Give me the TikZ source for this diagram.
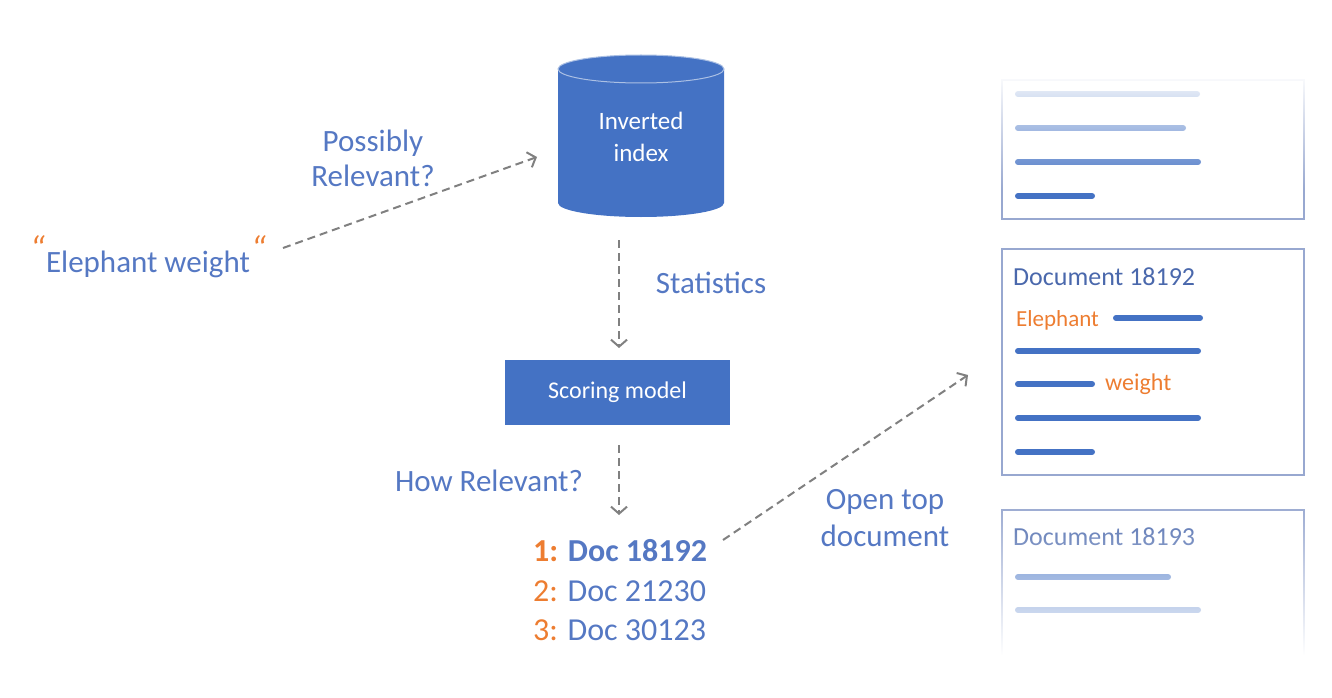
\documentclass[tikz,border=0pt]{standalone}
\usepackage{fontspec}
\setmainfont{Carlito}
\usetikzlibrary{arrows.meta,fadings}
\definecolor{mblue}{HTML}{4472C4}
\definecolor{tblue}{HTML}{5578C3}
\definecolor{dtblue}{HTML}{4A68AC}
\definecolor{morange}{HTML}{ED7D31}
\definecolor{agray}{HTML}{808080}
\definecolor{bordc}{HTML}{98A8D0}
\tikzfading[name=fadetop, top color=transparent!0, bottom color=transparent!100]
\tikzfading[name=fadebot, top color=transparent!100, bottom color=transparent!0]
\newcommand{\oquote}{\textcolor{morange}{\raisebox{11pt}{\fontsize{36}{36}\selectfont\itshape “}}}
\tikzset{
  lbl/.style={text=tblue, font=\fontsize{31}{35}\selectfont, align=center, inner sep=0pt},
  listitem/.style={text=tblue, font=\fontsize{32}{36}\selectfont, anchor=base west, inner sep=0pt},
  darrow/.style={draw=agray, line width=2pt, dash pattern=on 8pt off 5pt,
    -{Straight Barb[length=7pt,width=16pt]}},
  docline/.style={draw=mblue, line width=6pt, line cap=round},
  docbox/.style={draw=bordc, line width=1.5pt},
  doctitle/.style={text=dtblue, font=\fontsize{26}{30}\selectfont, anchor=west, inner sep=0pt},
  docword/.style={text=morange, font=\fontsize{23}{27}\selectfont, anchor=west, inner sep=0pt}
}
\begin{document}
\begin{tikzpicture}[x=1pt,y=-1pt]
\useasboundingbox (0,0) rectangle (1332,698);

% query
\node[lbl, anchor=base] (query) at (148,272) {\oquote\kern1pt Elephant weight\kern1pt\oquote};
\coordinate (qout) at (283,248);
\coordinate (qin) at (537,157);
\draw[darrow] (qout) -- (qin);
\node[lbl] (possibly) at (373,158) {Possibly\\Relevant?};

% cylinder
\fill[mblue] (558,69) -- (558,203) arc[start angle=180, end angle=0, x radius=83, y radius=14]
  -- (724,69) arc[start angle=0, end angle=-180, x radius=83, y radius=14] -- cycle;
\draw[white!55!mblue, line width=1pt] (641,69) ellipse[x radius=83, y radius=14];
\node[text=white, font=\fontsize{25}{32}\selectfont, align=center, inner sep=0pt] (inv) at (641,137) {Inverted\\index};
\coordinate (invbot) at (619,240);

% scoring model
\node[fill=mblue, minimum width=225pt, minimum height=65pt, text=white,
      font=\fontsize{24}{28}\selectfont, inner sep=0pt] (score) at (617.5,392.5) {Scoring model};
\coordinate (stin) at (619,348);
\draw[darrow] (invbot) -- (stin);
\node[lbl] (stat) at (711,283) {Statistics};

\coordinate (scout) at (619,445);
\coordinate (lin) at (619,515);
\draw[darrow] (scout) -- (lin);
\node[lbl] (how) at (489,481) {How Relevant?};

% result list
\node[listitem] (r1) at (533,561) {\textbf{\textcolor{morange}{1:} Doc 18192}};
\node[listitem] (r2) at (533,601) {\textcolor{morange}{2:} Doc 21230};
\node[listitem] (r3) at (533,640) {\textcolor{morange}{3:} Doc 30123};

\coordinate (rout) at (723,540);
\coordinate (din) at (968,375);
\draw[darrow] (rout) -- (din);
\node[lbl, font=\fontsize{31}{37}\selectfont] (open) at (885,518) {Open top\\document};

% documents
\draw[docbox] (1002,80) rectangle (1304,219);
\draw[docline] (1018,94) -- (1197,94);
\draw[docline] (1018,128) -- (1183,128);
\draw[docline] (1018,162) -- (1198,162);
\draw[docline] (1018,196) -- (1092,196);

\draw[docbox] (1002,249) rectangle (1304,475);
\node[doctitle] (d1) at (1013,277) {Document 18192};
\node[docword] (w1) at (1016,320) {Elephant};
\draw[docline] (1116,318) -- (1200,318);
\draw[docline] (1018,351) -- (1198,351);
\draw[docline] (1018,384) -- (1092,384);
\node[docword, font=\fontsize{24}{28}\selectfont] (w2) at (1105,384) {weight};
\draw[docline] (1018,418) -- (1198,418);
\draw[docline] (1018,452) -- (1092,452);

\draw[docbox] (1002,510) rectangle (1304,690);
\node[doctitle] (d2) at (1013,537) {Document 18193};
\draw[docline] (1018,577) -- (1168,577);
\draw[docline] (1018,610) -- (1198,610);

% fades
\fill[white, path fading=fadetop] (990,72) rectangle (1320,190);
\fill[white, path fading=fadebot] (990,500) rectangle (1320,655);
\fill[white] (990,655) rectangle (1320,698);
\end{tikzpicture}
\end{document}
